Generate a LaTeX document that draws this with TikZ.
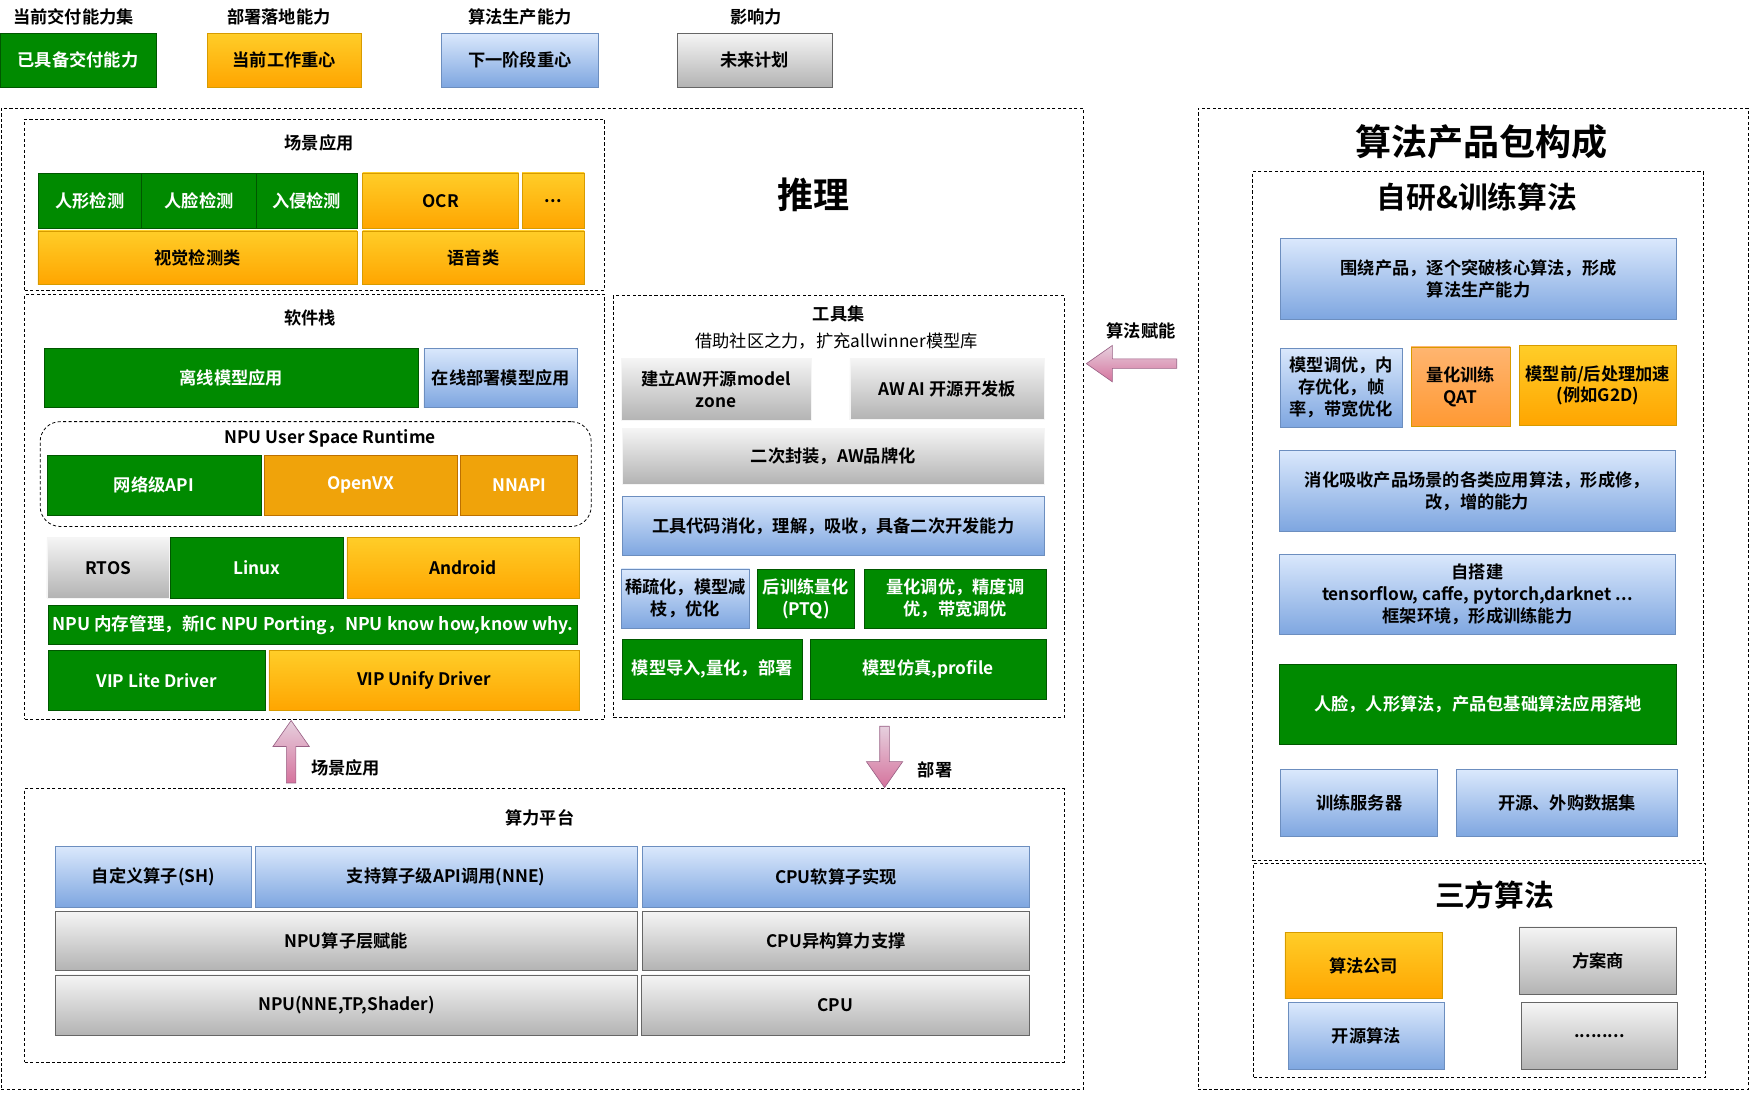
\documentclass[tikz,border=0pt]{standalone}
\usepackage{fontspec}
\setmainfont{Noto Sans CJK SC}[BoldFont={Noto Sans CJK SC Bold}]
\usetikzlibrary{shapes.arrows}

\definecolor{gfill}{HTML}{008A00}
\definecolor{gline}{HTML}{005700}
\definecolor{otop}{HTML}{FFCD28}
\definecolor{obot}{HTML}{FFA500}
\definecolor{oline}{HTML}{D79B00}
\definecolor{btop}{HTML}{DAE8FC}
\definecolor{bbot}{HTML}{7EA6E0}
\definecolor{bline}{HTML}{6C8EBF}
\definecolor{ytop}{HTML}{F5F5F5}
\definecolor{ybot}{HTML}{B3B3B3}
\definecolor{yline}{HTML}{666666}
\definecolor{vfill}{HTML}{F0A30A}
\definecolor{vline}{HTML}{BD7000}
\definecolor{qtop}{HTML}{FFB570}
\definecolor{qbot}{HTML}{FF9933}
\definecolor{ptop}{HTML}{E6D0DE}
\definecolor{pbot}{HTML}{D5739D}
\definecolor{pline}{HTML}{996185}

\begin{document}
\begin{tikzpicture}[
    box/.style={draw, minimum height=1.35cm, inner sep=1pt, align=center, font=\fontsize{11}{14}\selectfont\bfseries},
    readybox/.style={box, fill=gfill, draw=gline, text=white},
    focusbox/.style={box, top color=otop, bottom color=obot, draw=oline},
    nextbox/.style={box, top color=btop, bottom color=bbot, draw=bline},
    planbox/.style={box, top color=ytop, bottom color=ybot, draw=yline},
    vxbox/.style={box, fill=vfill, draw=vline, text=white},
    qatbox/.style={box, top color=qtop, bottom color=qbot, draw=oline},
    frame/.style={draw, dash pattern=on 2pt off 1.5pt, line width=0.5pt, inner sep=0pt},
    title/.style={font=\fontsize{11}{14}\selectfont\bfseries},
    big/.style={font=\fontsize{23}{27}\selectfont\bfseries},
    mid/.style={font=\fontsize{19}{23}\selectfont\bfseries},
    blockarrow/.style={single arrow, draw=pline, top color=ptop, bottom color=pbot, inner sep=0.1cm, minimum width=0.8cm, single arrow head extend=0.3cm, single arrow tip angle=70}
]
\useasboundingbox (0,0) rectangle (39.2,-24.475);

% Legend
\node[title] (capnow) at (1.65,-0.375) {当前交付能力集};
\node[readybox, minimum width=3.5cm, minimum height=1.2cm] (ready) at (1.75,-1.35) {已具备交付能力};
\node[title] (capdeploy) at (6.25,-0.375) {部署落地能力};
\node[focusbox, minimum width=3.45cm, minimum height=1.2cm] (focus) at (6.375,-1.35) {当前工作重心};
\node[title] (capalgo) at (11.65,-0.375) {算法生产能力};
\node[nextbox, minimum width=3.5cm, minimum height=1.2cm] (nextstage) at (11.65,-1.35) {下一阶段重心};
\node[title] (capimpact) at (16.95,-0.375) {影响力};
\node[planbox, minimum width=3.475cm, minimum height=1.2cm] (plan) at (16.9125,-1.35) {未来计划};

% Inference
\node[frame, minimum width=24.245cm, minimum height=22cm] (infer) at (12.1525,-13.425) {};
\node[big] (infertitle) at (18.225,-4.375) {推理};

% Scene applications
\node[frame, minimum width=13cm, minimum height=3.825cm] (scene) at (7.05,-4.5875) {};
\node[title] (scenetitle) at (7.15,-3.2) {场景应用};
\node[readybox, minimum width=2.325cm, minimum height=1.25cm] (human) at (2.0125,-4.5) {人形检测};
\node[readybox, minimum width=2.575cm, minimum height=1.25cm] (face) at (4.4625,-4.5) {人脸检测};
\node[readybox, minimum width=2.25cm, minimum height=1.25cm] (intrude) at (6.875,-4.5) {入侵检测};
\node[focusbox, minimum width=3.5cm, minimum height=1.25cm] (ocr) at (9.875,-4.5) {OCR};
\node[focusbox, minimum width=1.4cm, minimum height=1.25cm] (moreapp) at (12.4,-4.5) {.{}.{}.};
\node[focusbox, minimum width=7.15cm, minimum height=1.2cm] (vision) at (4.425,-5.775) {视觉检测类};
\node[focusbox, minimum width=4.975cm, minimum height=1.2cm] (voice) at (10.6125,-5.775) {语音类};

% Software stack
\node[frame, minimum width=13cm, minimum height=9.525cm] (stack) at (7.05,-11.3625) {};
\node[title] (stacktitle) at (6.95,-7.125) {软件栈};
\node[readybox, minimum width=8.375cm, minimum height=1.325cm] (offline) at (5.1875,-8.4625) {离线模型应用};
\node[nextbox, minimum width=3.45cm, minimum height=1.325cm] (online) at (11.225,-8.4625) {在线部署模型应用};
\node[frame, rounded corners=0.45cm, minimum width=12.35cm, minimum height=2.35cm] (runtime) at (7.075,-10.625) {};
\node[title] (runtimetitle) at (7.4,-9.825) {NPU User Space Runtime};
\node[readybox, minimum width=4.8cm] (netapi) at (3.45,-10.875) {网络级API};
\node[vxbox, minimum width=4.325cm] (openvx) at (8.0875,-10.875) {OpenVX};
\node[vxbox, minimum width=2.625cm] (nnapi) at (11.6375,-10.875) {NNAPI};
\node[planbox, draw=ytop, minimum width=2.75cm] (rtos) at (2.425,-12.725) {RTOS};
\node[readybox, minimum width=3.875cm] (linux) at (5.7625,-12.725) {Linux};
\node[focusbox, minimum width=5.2cm] (android) at (10.375,-12.725) {Android};
\node[readybox, minimum width=11.875cm, minimum height=0.875cm, font=\fontsize{11.2}{13}\selectfont\bfseries] (npumem) at (7.0125,-14.0125) {NPU 内存管理，新IC NPU Porting，NPU know how,know why.};
\node[readybox, minimum width=4.875cm] (vlite) at (3.5125,-15.25) {VIP Lite Driver};
\node[focusbox, minimum width=6.95cm] (vunify) at (9.5,-15.25) {VIP Unify Driver};

% Tool set
\node[frame, minimum width=10.1cm, minimum height=9.45cm] (tools) at (18.8,-11.35) {};
\node[title] (toolstitle) at (18.8,-7.025) {工具集};
\node[font=\fontsize{11}{14}\selectfont] (toolssub) at (18.75,-7.65) {借助社区之力，扩充allwinner模型库};
\node[planbox, draw=ytop, minimum width=4.25cm, minimum height=1.4cm] (zone) at (16.05,-8.725) {建立AW开源model\\zone};
\node[planbox, draw=ytop, minimum width=4.35cm, minimum height=1.375cm] (board) at (21.225,-8.7125) {AW AI 开源开发板};
\node[planbox, draw=ytop, minimum width=9.45cm, minimum height=1.25cm] (brand) at (18.675,-10.225) {二次封装，AW品牌化};
\node[nextbox, minimum width=9.45cm, minimum height=1.325cm] (digest) at (18.675,-11.7875) {工具代码消化，理解，吸收，具备二次开发能力};
\node[nextbox, minimum width=2.875cm, minimum height=1.325cm] (sparse) at (15.3625,-13.4125) {稀疏化，模型减\\枝，优化};
\node[readybox, minimum width=2.175cm, minimum height=1.325cm] (ptq) at (18.0625,-13.4125) {后训练量化\\(PTQ)};
\node[readybox, minimum width=4.075cm, minimum height=1.325cm] (tune) at (21.4125,-13.4125) {量化调优，精度调\\优，带宽调优};
\node[readybox, minimum width=4.025cm] (import) at (15.9625,-15) {模型导入,量化，部署};
\node[readybox, minimum width=5.3cm] (simu) at (20.8,-15) {模型仿真,profile};

% Compute platform
\node[frame, minimum width=23.3cm, minimum height=6.125cm] (platform) at (12.2,-20.7375) {};
\node[title] (platformtitle) at (12.1,-18.325) {算力平台};
\node[nextbox, minimum width=4.375cm] (custom) at (3.4375,-19.65) {自定义算子(SH)};
\node[nextbox, minimum width=8.55cm] (nneapi) at (10.0,-19.65) {支持算子级API调用(NNE)};
\node[nextbox, minimum width=8.675cm] (cpusoft) at (18.7375,-19.65) {CPU软算子实现};
\node[planbox, minimum width=13.025cm, minimum height=1.325cm] (npuop) at (7.7625,-21.0875) {NPU算子层赋能};
\node[planbox, minimum width=8.675cm, minimum height=1.325cm] (cpuhet) at (18.7375,-21.0875) {CPU异构算力支撑};
\node[planbox, minimum width=13.025cm] (npu) at (7.7625,-22.525) {NPU(NNE,TP,Shader)};
\node[planbox, minimum width=8.7cm] (cpu) at (18.725,-22.525) {CPU};

% Block arrows
\node[blockarrow, shape border rotate=90, minimum height=1.4cm] (uparrow) at (6.525,-16.925) {};
\node[title, anchor=west] (uplabel) at (6.85,-17.2) {场景应用};
\node[blockarrow, shape border rotate=270, minimum height=1.375cm] (downarrow) at (19.825,-16.8875) {};
\node[title, anchor=west] (downlabel) at (20.45,-17.25) {部署};
\node[blockarrow, shape border rotate=180, minimum height=2.025cm] (leftarrow) at (25.4375,-8.15) {};
\node[title] (leftlabel) at (25.575,-7.425) {算法赋能};

% Algorithm product package
\node[frame, minimum width=12.325cm, minimum height=22cm] (package) at (33.0125,-13.425) {};
\node[big] (packagetitle) at (33.2,-3.175) {算法产品包构成};

% Own research and training
\node[frame, minimum width=10.1cm, minimum height=15.425cm] (own) at (33.125,-11.5625) {};
\node[mid] (owntitle) at (33.1,-4.425) {自研\&训练算法};
\node[nextbox, minimum width=8.875cm, minimum height=1.8cm] (core) at (33.1375,-6.25) {围绕产品，逐个突破核心算法，形成\\算法生产能力};
\node[nextbox, minimum width=2.725cm, minimum height=1.775cm] (modeltune) at (30.0625,-8.6875) {模型调优，内\\存优化，帧\\率，带宽优化};
\node[qatbox, minimum width=2.225cm, minimum height=1.775cm] (qat) at (32.7375,-8.6625) {量化训练\\QAT};
\node[focusbox, minimum width=3.525cm, minimum height=1.775cm] (prepost) at (35.8125,-8.6375) {模型前/后处理加速\\(例如G2D)};
\node[nextbox, minimum width=8.875cm, minimum height=1.8cm] (absorb) at (33.1125,-11.0) {消化吸收产品场景的各类应用算法，形成修，\\改，增的能力};
\node[nextbox, minimum width=8.875cm, minimum height=1.8cm] (frameworks) at (33.1125,-13.325) {自搭建\\tensorflow, caffe, pytorch,darknet .{}.{}.\\框架环境，形成训练能力};
\node[readybox, minimum width=8.9cm, minimum height=1.775cm] (landing) at (33.125,-15.7875) {人脸，人形算法，产品包基础算法应用落地};
\node[nextbox, minimum width=3.525cm, minimum height=1.5cm] (server) at (30.4625,-18.0) {训练服务器};
\node[nextbox, minimum width=4.95cm, minimum height=1.5cm] (dataset) at (35.125,-18.0) {开源、外购数据集};

% Third party algorithms
\node[frame, minimum width=10.125cm, minimum height=4.8cm] (third) at (33.1625,-21.75) {};
\node[mid] (thirdtitle) at (33.5,-20.05) {三方算法};
\node[focusbox, minimum width=3.525cm, minimum height=1.475cm] (company) at (30.5625,-21.6375) {算法公司};
\node[planbox, minimum width=3.525cm, minimum height=1.5cm] (vendor) at (35.8125,-21.525) {方案商};
\node[nextbox, minimum width=3.5cm, minimum height=1.5cm] (opensrc) at (30.625,-23.225) {开源算法};
\node[planbox, minimum width=3.5cm, minimum height=1.5cm] (others) at (35.85,-23.225) {.{}.{}.{}.{}.{}.{}.{}.{}.};
\end{tikzpicture}
\end{document}
